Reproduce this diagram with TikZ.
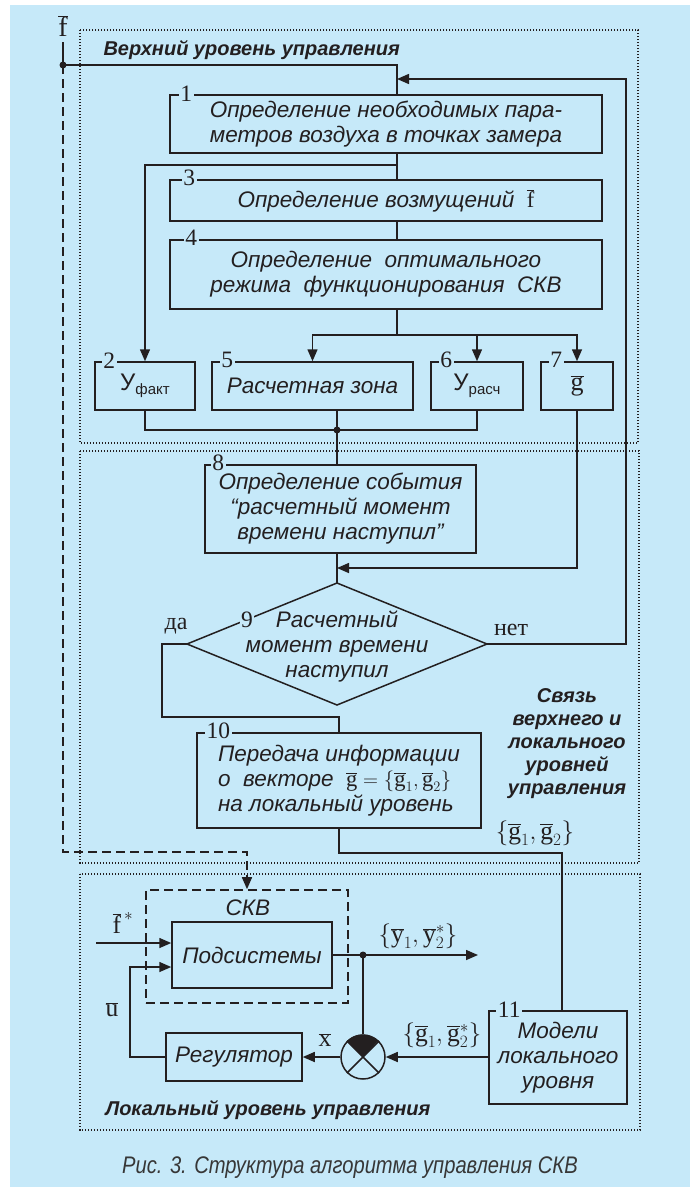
\documentclass[tikz,border=0pt]{standalone}
\usepackage{fontspec}
\setmainfont{Liberation Sans}
\setmathrm{Liberation Serif}
\newfontfamily\serif{Liberation Serif}
\newfontfamily\capfont[FakeStretch=0.84]{Liberation Sans}
\usetikzlibrary{arrows.meta}
\definecolor{skyfill}{RGB}{198,233,249}
\definecolor{ink}{RGB}{35,31,32}
\definecolor{capgray}{RGB}{55,55,55}
\newcommand{\vb}[1]{\overline{\mathrm{#1}}}
\tikzset{
  blk/.style={draw=ink, line width=1.5pt, inner sep=0pt, align=center, text=ink, font=\itshape\fontsize{22.5}{25}\selectfont},
  num/.style={fill=skyfill, text=ink, inner sep=1.5pt, font=\serif\fontsize{23.5}{23.5}\selectfont},
  lvl/.style={text=ink, align=center, font=\bfseries\itshape\fontsize{20}{23}\selectfont},
  mlbl/.style={text=ink, font=\fontsize{25.5}{28}\selectfont},
  wire/.style={draw=ink, line width=1.5pt},
  flow/.style={wire, -{Triangle[length=12pt,width=10pt]}},
  dotbox/.style={draw=ink, line width=1.4pt, dash pattern=on 1.4pt off 1.6pt},
  dashwire/.style={draw=ink, line width=1.6pt, dash pattern=on 9pt off 5pt},
}
\begin{document}
\begin{tikzpicture}[x=1pt, y=-1pt]
	\useasboundingbox (0,0) rectangle (698,1187);
	\fill[white] (0,0) rectangle (698,1187);
	\fill[skyfill] (10,5) rectangle (690,1187);
	
	% levels
	\draw[dotbox] (80,30) rectangle (638,443);
	\draw[dotbox] (80,451) rectangle (639,863);
	\draw[dotbox] (80,874) rectangle (640,1130);
	\node[lvl, anchor=west] at (100,50) {Верхний уровень управления};
	\node[lvl] at (567,744) {Связь\\верхнего и\\локального\\уровней\\управления};
	\node[lvl, anchor=west] at (102,1110) {Локальный уровень управления};
	
	% upper level
	\node[blk, minimum width=432pt, minimum height=58pt] (b1) at (386,124) {Определение необходимых пара-\\метров воздуха в точках замера};
	\node[blk, minimum width=432pt, minimum height=41pt] (b3) at (386,200.5) {Определение возмущений\ \ $\vb{f}$};
	\node[blk, minimum width=432pt, minimum height=69pt] (b4) at (386,274.5) {Определение\ \ оптимального\\режима\ \ функционирования\ \ СКВ};
	\node[blk, minimum width=100pt, minimum height=48pt] (b2) at (145,386) {\upshape\fontsize{24}{25}\selectfont У\raisebox{-4pt}{\fontsize{15}{15}\selectfont факт}};
	\node[blk, minimum width=201pt, minimum height=48pt] (b5) at (312.5,386) {Расчетная зона};
	\node[blk, minimum width=92pt, minimum height=48pt] (b6) at (477,386) {\upshape\fontsize{24}{25}\selectfont У\raisebox{-4pt}{\fontsize{15}{15}\selectfont расч}};
	\node[blk, minimum width=72pt, minimum height=48pt] (b7) at (577,386) {\fontsize{26}{26}\selectfont$\vb{g}$};
	\node[num] at ([xshift=17pt,yshift=1pt]b1.north west) {1};
	\node[num] at ([xshift=20pt,yshift=1pt]b3.north west) {3};
	\node[num] at ([xshift=22pt,yshift=1pt]b4.north west) {4};
	\node[num] at ([xshift=15pt,yshift=1pt]b2.north west) {2};
	\node[num] at ([xshift=16pt,yshift=1pt]b5.north west) {5};
	\node[num] at ([xshift=16pt,yshift=1pt]b6.north west) {6};
	\node[num] at ([xshift=16pt,yshift=1pt]b7.north west) {7};
	
	\node[mlbl, font=\fontsize{28}{30}\selectfont, inner sep=5pt] (fbar) at (63,26) {$\vb{f}$};
	\coordinate (fj) at (63,65);
	\coordinate (tr) at (397,0);
	\coordinate (br) at (397,165);
	\coordinate (dist) at (397,335);
	\coordinate (col) at (337,430);
	\coordinate (fbk) at (626,79);
	\draw[wire] (fbar.south) -- (fj) -| (tr |- b1.north);
	\fill[ink] (fj) circle (3.5pt);
	\draw[wire] (tr |- b1.south) -- (tr |- b3.north);
	\draw[flow] (br) -| (b2.north);
	\draw[wire] (tr |- b3.south) -- (tr |- b4.north);
	\draw[wire] (tr |- b4.south) -- (dist);
	\draw[flow] (dist) -| (b5.north);
	\draw[flow] (dist) -| (b7.north);
	\draw[flow] (b6.north |- dist) -- (b6.north);
	\draw[wire] (b2.south) |- (b6.south |- col) -- (b6.south);
	
	% link level
	\node[blk, minimum width=271pt, minimum height=88pt] (b8) at (340.5,509) {Определение события\\“расчетный момент\\времени наступил”};
	\node[num] at ([xshift=14pt,yshift=1pt]b8.north west) {8};
	\draw[wire] (col |- b5.south) -- (col |- b8.north);
	\fill[ink] (col) circle (3.5pt);
	\coordinate (mg) at (337,568);
	\draw[flow] (b7.south) |- (mg);
	\coordinate (dtop) at (337,583);
	\coordinate (dleft) at (187,644);
	\coordinate (dright) at (487,644);
	\coordinate (dbot) at (337,705);
	\draw[wire] (col |- b8.south) -- (dtop);
	\draw[wire] (dtop) -- (dright) -- (dbot) -- (dleft) -- cycle;
	\node[blk, draw=none] (d9) at (337,647) {Расчетный\\момент времени\\наступил};
	\node[num] at (247,620) {9};
	\node[mlbl, font=\serif\fontsize{24}{28}\selectfont] at (176,626) {да};
	\node[mlbl, font=\serif\fontsize{24}{28}\selectfont] at (511,630) {нет};
	\draw[flow] (dright) -| (fbk) -- (tr |- fbk);
	
	\node[blk, align=left, minimum width=284pt, minimum height=95pt] (b10) at (339,780.5) {Передача информации\\о\ \ векторе\ \ $\vb{g}=\{\vb{g}_1,\vb{g}_2\}$\\на локальный уровень};
	\node[num] at ([xshift=22pt,yshift=1pt]b10.north west) {10};
	\coordinate (yes) at (162,717);
	\draw[wire] (dleft) -| (yes) -| (b10.north);
	
	% local level
	\node[blk, minimum width=138pt, minimum height=93pt] (b11) at (558,1057.5) {Модели\\локального\\уровня};
	\node[num] at ([xshift=21pt,yshift=1pt]b11.north west) {11};
	\coordinate (lnk) at (562,853);
	\draw[wire] (b10.south) |- (lnk) -- (lnk |- b11.north);
	\node[mlbl] at (535,833) {$\{\vb{g}_1,\vb{g}_2\}$};
	
	\node[blk, dashwire, minimum width=202pt, minimum height=113pt] (skv) at (247,946.5) {};
	\node[blk, draw=none] at (248,908) {СКВ};
	\node[blk, minimum width=160pt, minimum height=66pt] (sub) at (252,955) {Подсистемы};
	\node[blk, minimum width=136pt, minimum height=48pt] (reg) at (234,1057) {Регулятор};
	\node[draw=ink, line width=1.5pt, circle, minimum size=44pt, inner sep=0pt] (sum) at (363,1057) {};
	\fill[ink] (sum.center) -- (sum.135) arc[start angle=135, end angle=45, radius=22pt] -- cycle;
	\draw[wire] (sum.45) -- (sum.225) (sum.135) -- (sum.315);
	
	\coordinate (fc) at (63,852);
	\draw[dashwire, -{Triangle[length=12pt,width=10pt]}] (fj) -- (fc) -| (skv.north);
	\coordinate (fin) at (96,943);
	\coordinate (uc) at (130,967);
	\coordinate (yd) at (363,955);
	\coordinate (yout) at (478,955);
	\draw[flow] (fin) -- (fin -| sub.west);
	\draw[flow] (reg.west) -| (uc) -- (uc -| sub.west);
	\draw[flow] (sub.east) -- (yout);
	\fill[ink] (yd) circle (3.5pt);
	\draw[wire] (yd) -- (sum.north);
	\draw[flow] (sum.west) -- (reg.east);
	\draw[flow] (b11.west |- sum) -- (sum.east);
	\node[mlbl] at (123,923) {$\vb{f}^{\,*}$};
	\node[mlbl] at (112,1010) {$\vb{u}$};
	\node[mlbl] at (418,936) {$\{\vb{y}_1,\vb{y}_2^*\}$};
	\node[mlbl] at (325,1040) {$\vb{x}$};
	\node[mlbl] at (442,1035) {$\{\vb{g}_1,\vb{g}_2^*\}$};
	
	\node[text=capgray, font=\capfont\itshape\fontsize{24}{28}\selectfont] (cap) at (350,1168) {Рис. 3. Структура алгоритма управления СКВ};
\end{tikzpicture}
\end{document}
